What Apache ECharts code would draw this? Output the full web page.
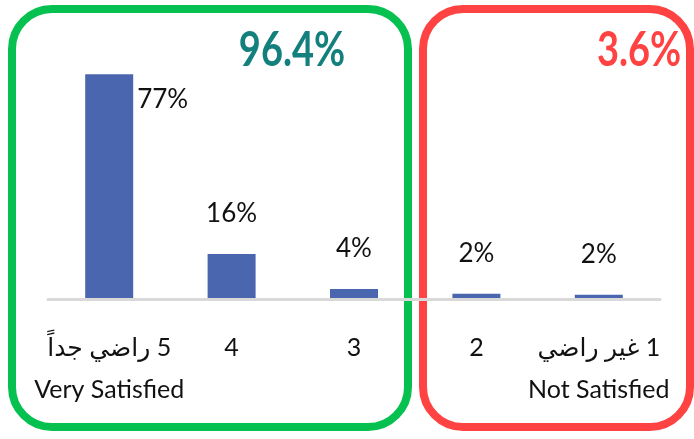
<!DOCTYPE html>
<html>
<head>
<meta charset="utf-8">
<script src="https://cdn.jsdelivr.net/npm/echarts@6/dist/echarts.min.js"></script>
<style>
html,body{margin:0;padding:0;background:#fff;}
#chart{width:694px;height:439px;}
</style>
</head>
<body>
<div id="chart"></div>
<script>
// ---- data ----
var categories = ['\u200F5 راضي جداً\nVery Satisfied', '4', '3', '2', '\u200F1 غير راضي\nNot Satisfied'];
var values = [77.2, 15.6, 3.6, 2.0, 1.6];
var valueLabels = ['77%', '16%', '4%', '2%', '2%'];
var groupTitles = ['96.4%', '3.6%'];

var FONT = "Lato, 'DejaVu Sans', sans-serif";
var chart = echarts.init(document.getElementById('chart'), null, {renderer: 'canvas'});

var seriesData = values.map(function (v, i) {
  var item = {value: v};
  if (i === 0) {
    item.label = {position: [52, 12], align: 'left', verticalAlign: 'top'};
  }
  return item;
});

chart.setOption({
  backgroundColor: '#ffffff',
  animation: false,
  grid: {left: 48, right: 34, top: 66, bottom: 139.5, containLabel: false},
  xAxis: {
    type: 'category',
    data: categories,
    z: 5,
    axisLine: {lineStyle: {color: '#d9d9d9', width: 3}},
    axisTick: {show: false},
    axisLabel: {
      interval: 0,
      margin: 27,
      color: '#111111',
      fontFamily: FONT,
      fontSize: 25,
      lineHeight: 42
    }
  },
  yAxis: {type: 'value', min: 0, max: 80, show: false, splitLine: {show: false}},
  series: [{
    type: 'bar',
    data: seriesData,
    barWidth: 48,
    itemStyle: {color: '#4a66ae'},
    label: {
      show: true,
      position: 'top',
      distance: 27,
      color: '#111111',
      fontFamily: FONT,
      fontSize: 26,
      formatter: function (p) { return valueLabels[p.dataIndex]; }
    }
  }],
  graphic: [
    {type: 'rect', shape: {x: 12, y: 9, width: 396, height: 418, r: 40},
     style: {fill: 'none', stroke: '#06c050', lineWidth: 8}},
    {type: 'rect', shape: {x: 423, y: 9, width: 267, height: 418, r: 40},
     style: {fill: 'none', stroke: '#ff4242', lineWidth: 8}},
    {type: 'text', x: 292, y: 50, scaleY: 1.28,
     style: {text: groupTitles[0], fill: '#14807e', font: 'bold 38px ' + FONT,
             textAlign: 'center', textVerticalAlign: 'middle'}},
    {type: 'text', x: 639, y: 50, scaleY: 1.28,
     style: {text: groupTitles[1], fill: '#ff4242', font: 'bold 38px ' + FONT,
             textAlign: 'center', textVerticalAlign: 'middle'}}
  ]
});
</script>
</body>
</html>
